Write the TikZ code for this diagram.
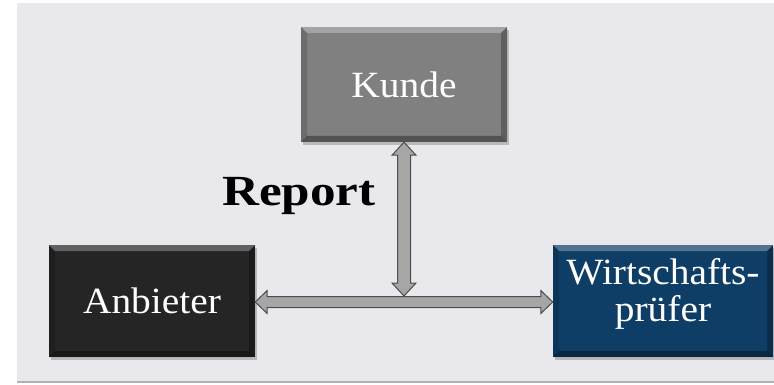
\documentclass[tikz,border=0pt]{standalone}
\usepackage{fontspec}
\setmainfont[FakeStretch=1.065]{Liberation Serif}
\newfontfamily\reportfont[FakeStretch=1.19]{Liberation Serif}
\usetikzlibrary{calc,shadows}
\definecolor{bgcol}{RGB}{233,233,237}
\definecolor{kundecol}{RGB}{128,128,128}
\definecolor{anbcol}{RGB}{37,37,37}
\definecolor{wpcol}{RGB}{14,62,102}
\definecolor{arrowfill}{RGB}{166,166,166}
\definecolor{arrowline}{RGB}{77,77,77}
\tikzset{
  bevelbox/.style={rectangle, inner sep=0pt, text=white, align=center,
    font=\fontsize{37}{35}\selectfont,
    drop shadow={shadow xshift=2pt, shadow yshift=-3pt, opacity=0.45},
    path picture={
      \fill[white,opacity=0.28] (path picture bounding box.north west) -- (path picture bounding box.north east)
        -- ([xshift=-6pt,yshift=-6pt]path picture bounding box.north east) -- ([xshift=6pt,yshift=-6pt]path picture bounding box.north west) -- cycle;
      \fill[black,opacity=0.35] (path picture bounding box.south west) -- (path picture bounding box.south east)
        -- ([xshift=-6pt,yshift=6pt]path picture bounding box.south east) -- ([xshift=6pt,yshift=6pt]path picture bounding box.south west) -- cycle;
      \fill[black,opacity=0.15] (path picture bounding box.north west) -- ([xshift=6pt,yshift=-6pt]path picture bounding box.north west)
        -- ([xshift=6pt,yshift=6pt]path picture bounding box.south west) -- (path picture bounding box.south west) -- cycle;
      \fill[black,opacity=0.25] (path picture bounding box.north east) -- ([xshift=-6pt,yshift=-6pt]path picture bounding box.north east)
        -- ([xshift=-6pt,yshift=6pt]path picture bounding box.south east) -- (path picture bounding box.south east) -- cycle;
    }},
  blockarrow/.style={fill=arrowfill, draw=arrowline, line width=1pt, line join=miter},
  reportlabel/.style={font=\reportfont\bfseries\fontsize{43}{43}\selectfont, text=black, inner sep=0pt, anchor=base}
}
\begin{document}
\begin{tikzpicture}[x=1pt,y=-1pt]
\useasboundingbox (0,0) rectangle (774,385);
\fill[white] (0,0) rectangle (774,385);
\fill[bgcol] (17,3) rectangle (774,381);
\fill[black!30] (17,381) rectangle (774,383);

\node[bevelbox, fill=kundecol, minimum width=206pt, minimum height=115pt] (kunde) at (404,84.5) {Kunde};
\node[bevelbox, fill=anbcol, minimum width=206pt, minimum height=112pt] (anb) at (152,301) {Anbieter};
\node[bevelbox, fill=wpcol, minimum width=220pt, minimum height=112pt] (wp) at (663,301)
  {\raisebox{0pt}[\height][\dimexpr\depth+12pt\relax]{\begin{tabular}{@{}c@{}}Wirtschafts-\\prüfer\end{tabular}}};

\node[reportlabel] (report) at (299,205) {Report};

\coordinate (j) at (404,302);

% horizontal double arrow Anbieter <-> Wirtschaftspruefer
\draw[blockarrow] let \p1=(anb.east), \p2=(wp.west), \p3=(j) in
  (\x1,\y3) -- (\x1+12pt,\y3+11.5pt) -- (\x1+12pt,\y3+5.5pt) -- (\x2-12pt,\y3+5.5pt)
  -- (\x2-12pt,\y3+11.5pt) -- (\x2,\y3) -- (\x2-12pt,\y3-11.5pt) -- (\x2-12pt,\y3-5.5pt)
  -- (\x1+12pt,\y3-5.5pt) -- (\x1+12pt,\y3-11.5pt) -- cycle;

% vertical double arrow Kunde <-> horizontal arrow
\draw[blockarrow] let \p1=(kunde.south), \p3=($(j)+(0,-6)$) in
  (\x1,\y1) -- (\x1+12pt,\y1-13pt) -- (\x1+6.5pt,\y1-13pt) -- (\x1+6.5pt,\y3+13pt)
  -- (\x1+12pt,\y3+13pt) -- (\x1,\y3) -- (\x1-12pt,\y3+13pt) -- (\x1-6.5pt,\y3+13pt)
  -- (\x1-6.5pt,\y1-13pt) -- (\x1-12pt,\y1-13pt) -- cycle;
\end{tikzpicture}
\end{document}
